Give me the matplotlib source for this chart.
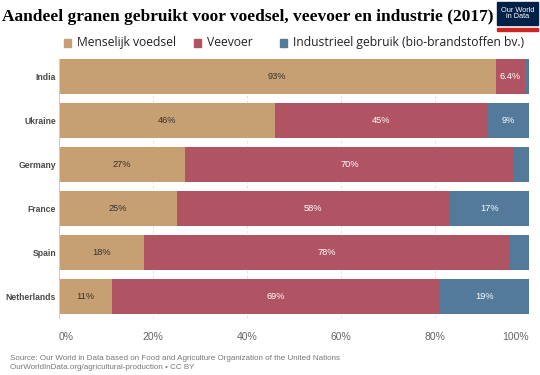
import matplotlib.pyplot as plt
from matplotlib.patches import Rectangle

countries = ["India", "Ukraine", "Germany", "France", "Spain", "Netherlands"]
food = [92.9, 46, 26.8, 25.1, 18.1, 11.4]
feed = [6.2, 45, 70, 57.9, 77.9, 69.5]
industry = [0.9, 9, 3.2, 17, 4, 19.1]
food_lbl = ["93%", "46%", "27%", "25%", "18%", "11%"]
feed_lbl = ["6.4%", "45%", "70%", "58%", "78%", "69%"]
ind_lbl = ["", "9%", "", "17%", "", "19%"]
series = ["Menselijk voedsel", "Veevoer", "Industrieel gebruik (bio-brandstoffen bv.)"]
colors = ["#C6A072", "#B05464", "#537A9B"]
ticks = [0, 20, 40, 60, 80, 100]
tick_lbl = ["0%", "20%", "40%", "60%", "80%", "100%"]

fig = plt.figure(figsize=(5.4, 3.75), dpi=100)
ax = fig.add_axes([0.109, 0.152, 0.871, 0.691])

y = list(range(len(countries)))
left = [0] * len(countries)
for vals, lbls, col, tc in [(food, food_lbl, colors[0], "#333333"),
                            (feed, feed_lbl, colors[1], "white"),
                            (industry, ind_lbl, colors[2], "white")]:
    ax.barh(y, vals, left=left, height=0.8, color=col, zorder=2)
    for i, (v, l) in enumerate(zip(vals, lbls)):
        if l:
            ax.text(left[i] + v / 2, i, l, ha="center", va="center",
                    fontsize=6.7, color=tc, family="Liberation Sans", zorder=3)
    left = [a + b for a, b in zip(left, vals)]

ax.set_xlim(0, 100)
ax.set_ylim(5.49, -0.4)
ax.set_yticks(y)
ax.set_yticklabels(countries, fontsize=6.2, fontweight="bold", color="#4a4a4a",
                   family="Liberation Sans")
ax.set_xticks(ticks)
ax.set_xticklabels(tick_lbl, fontsize=7.5, color="#666666", family="Liberation Sans")
xl = ax.get_xticklabels()
xl[0].set_ha("left")
xl[-1].set_ha("right")
ax.tick_params(axis="y", length=0, pad=2)
ax.tick_params(axis="x", length=0, pad=10)
ax.grid(axis="x", color="#dddddd", linestyle=(0, (3, 3)), linewidth=0.6, zorder=1)
for s in ["top", "right", "bottom"]:
    ax.spines[s].set_visible(False)
ax.spines["left"].set_color("#cccccc")
ax.spines["left"].set_linewidth(0.8)

fig.text(0.004, 0.955, "Aandeel granen gebruikt voor voedsel, veevoer en industrie (2017)",
         fontsize=12.5, fontweight="bold", family="Liberation Serif", va="center")

# logo
fig.patches.append(Rectangle((0.920, 0.933), 0.076, 0.062, transform=fig.transFigure,
                             color="#002147", zorder=5))
fig.patches.append(Rectangle((0.920, 0.917), 0.076, 0.008, transform=fig.transFigure,
                             color="#CE261E", zorder=5))
fig.text(0.958, 0.964, "Our World\nin Data", color="white", fontsize=5.3,
         ha="center", va="center", family="Liberation Sans", linespacing=1.0, zorder=6)

# legend
lx = [0.1185, 0.359, 0.519]
for x, name, col in zip(lx, series, colors):
    fig.patches.append(Rectangle((x, 0.876), 0.013, 0.019, transform=fig.transFigure,
                                 color=col))
    fig.text(x + 0.024, 0.886, name, fontsize=8.7, family="Open Sans", va="center",
             color="#222222")

fig.text(0.018, 0.040, "Source: Our World in Data based on Food and Agriculture Organization of the United Nations",
         fontsize=5.8, color="#777777", family="Liberation Sans")
fig.text(0.018, 0.016, "OurWorldInData.org/agricultural-production \u2022 CC BY",
         fontsize=5.8, color="#777777", family="Liberation Sans")

fig.savefig("out.png", dpi=100)
